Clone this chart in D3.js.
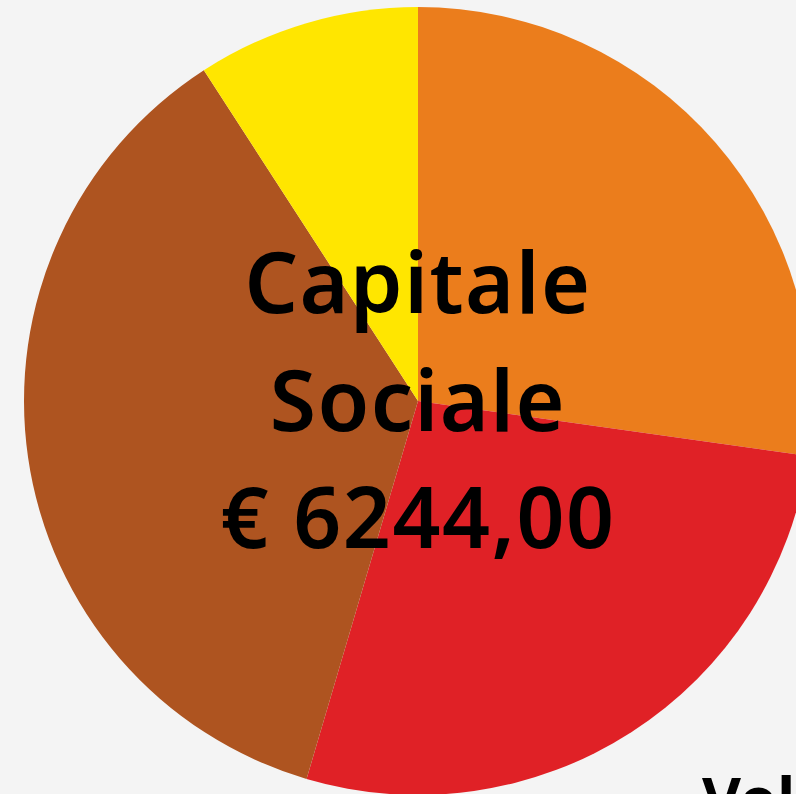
<!DOCTYPE html>
<html>
<head>
<meta charset="utf-8">
<script src="https://cdn.jsdelivr.net/npm/d3@7"></script>
<style>
  html, body { margin: 0; padding: 0; background: #f4f4f4; overflow: hidden; }
  svg { display: block; }
</style>
</head>
<body>
<div id="chart"></div>
<script>
(function () {
  const categories = ["Quota A", "Quota B", "Quota C", "Quota D"];
  const values = [1700, 1707, 2266, 571];
  const colors = ["#eb7d1c", "#e02126", "#ae5420", "#ffe600"];
  const titleLines = ["Capitale", "Sociale", "€ 6244,00"];

  const width = 796, height = 794;
  const cx = 418, cy = 401, radius = 394;

  let svg = d3.select("#chart").append("svg")
    .attr("width", width)
    .attr("height", height);

  svg.append("rect")
    .attr("width", width)
    .attr("height", height)
    .attr("fill", "#f4f4f4");

  let pie = d3.pie().sort(null).value(d => d.value);
  let arc = d3.arc().innerRadius(0).outerRadius(radius);
  let data = categories.map((c, i) => ({ name: c, value: values[i] }));
  let color = d3.scaleOrdinal().domain(categories).range(colors);

  let g = svg.append("g").attr("transform", `translate(${cx},${cy})`);

  g.selectAll("path")
    .data(pie(data))
    .join("path")
    .attr("d", arc)
    .attr("fill", d => color(d.data.name));

  g.append("text")
    .attr("text-anchor", "middle")
    .attr("font-family", "'Noto Sans', sans-serif")
    .attr("font-weight", 600)
    .attr("font-size", 84)
    .attr("letter-spacing", 1.5)
    .attr("fill", "#000")
    .selectAll("tspan")
    .data(titleLines)
    .join("tspan")
    .attr("x", 0)
    .attr("y", (d, i) => -88 + i * 117.5)
    .text(d => d);

  // next chart title, cut off at the bottom right
  svg.append("text")
    .attr("x", 702)
    .attr("y", 820)
    .attr("font-family", "'Noto Sans', sans-serif")
    .attr("font-weight", 700)
    .attr("font-size", 60)
    .attr("fill", "#000")
    .text("Volontari");
})();
</script>
</body>
</html>
